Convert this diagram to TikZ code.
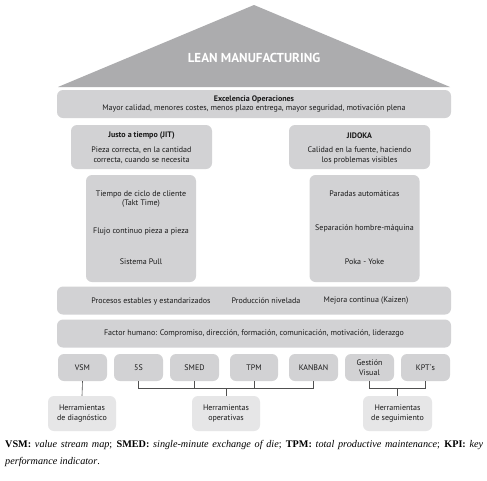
\documentclass[tikz,border=0pt]{standalone}
\usepackage{fontspec}
\setmainfont{Liberation Serif}
\newfontfamily\diag{PT Sans}
\begin{document}
\begin{tikzpicture}[x=1pt,y=-1pt,
  box/.style={fill=boxgray,rounded corners=6pt,inner sep=0pt,align=center,font=\diag\fontsize{8}{9.6}\selectfont,text=txt},
  lbox/.style={box,fill=lightgray2},
  lbl/.style={inner sep=0pt,align=center,font=\diag\fontsize{8}{9.6}\selectfont,text=txt},
  conn/.style={draw=conncol,line width=0.6pt}]
\definecolor{boxgray}{RGB}{210,210,212}
\definecolor{lightgray2}{RGB}{230,230,231}
\definecolor{roofgray}{RGB}{172,172,174}
\definecolor{txt}{RGB}{25,25,25}
\definecolor{conncol}{RGB}{80,80,80}
\useasboundingbox (0,0) rectangle (487,480);
\fill[white] (0,0) rectangle (487,480);
% roof
\fill[roofgray] (254,5) -- (450,87) -- (58,87) -- cycle;
\node[inner sep=0pt,font=\diag\bfseries\fontsize{13}{15}\selectfont,text=white] (lean) at (254,58) {LEAN MANUFACTURING};
% excellence
\node[box,minimum width=394,minimum height=28] (exc) at (254,104) {};
\node[lbl] (exct) at (254,104) {\textbf{Excelencia Operaciones}\\Mayor calidad, menores costes, menos plazo entrega, mayor seguridad, motivación plena};
% JIT and JIDOKA
\node[box,minimum width=141,minimum height=44] (jit) at (141.5,147) {};
\node[lbl] (jitt) at (141.5,136) {\textbf{Justo a tiempo (JIT)}};
\node[lbl] (jitd) at (141.5,155.5) {Pieza correcta, en la cantidad\\correcta, cuando se necesita};
\node[box,minimum width=141,minimum height=44] (jid) at (359.5,147) {};
\node[lbl] (jidt) at (359.5,136) {\textbf{JIDOKA}};
\node[lbl] (jidd) at (359.5,155.5) {Calidad en la fuente, haciendo\\los problemas visibles};
% pillars
\node[box,minimum width=110,minimum height=107] (pl) at (141,228.5) {};
\node[lbl] (pl1) at (141,199) {Tiempo de ciclo de cliente\\(Takt Time)};
\node[lbl] (pl2) at (141,232) {Flujo continuo pieza a pieza};
\node[lbl] (pl3) at (141,262) {Sistema Pull};
\node[box,minimum width=110,minimum height=107] (pr) at (364.5,228.5) {};
\node[lbl] (pr1) at (364.5,194) {Paradas automáticas};
\node[lbl] (pr2) at (364.5,228) {Separación hombre-máquina};
\node[lbl] (pr3) at (364.5,262) {Poka - Yoke};
% bands
\node[box,minimum width=394,minimum height=28] (proc) at (254,300.5) {};
\node[lbl] (proc1) at (151,301) {Procesos estables y estandarizados};
\node[lbl] (proc2) at (266,301) {Producción nivelada};
\node[lbl] (proc3) at (366,301) {Mejora continua (Kaizen)};
\node[box,minimum width=394,minimum height=28] (fac) at (254,333.5) {Factor humano: Compromiso, dirección, formación, comunicación, motivación, liderazgo};
% tools
\node[box,minimum width=49,minimum height=27] (vsm) at (82.5,367.5) {VSM};
\node[box,minimum width=49,minimum height=27] (s5) at (138.5,367.5) {5S};
\node[box,minimum width=49,minimum height=27] (smed) at (194.5,367.5) {SMED};
\node[box,minimum width=48,minimum height=27] (tpm) at (254,367.5) {TPM};
\node[box,minimum width=49,minimum height=27] (kan) at (313.5,367.5) {KANBAN};
\node[box,minimum width=49,minimum height=27] (gv) at (369.5,367.5) {Gestión\\Visual};
\node[box,minimum width=49,minimum height=27] (kpt) at (425.5,367.5) {KPT´s};
% bottom boxes
\node[lbox,minimum width=68,minimum height=35] (hd) at (82,413.5) {Herramientas\\de diagnóstico};
\node[lbox,minimum width=68,minimum height=35] (ho) at (226,413.5) {Herramientas\\operativas};
\node[lbox,minimum width=69,minimum height=35] (hs) at (397.5,413.5) {Herramientas\\de seguimiento};
% connectors
\coordinate (obar) at (226,388);
\coordinate (sbar) at (397.5,388);
\draw[conn] (vsm.south) -- (hd.north);
\draw[conn] (s5.south) |- (obar);
\draw[conn] (kan.south) |- (obar);
\draw[conn] (smed.south) -- (smed.south |- obar);
\draw[conn] (tpm.south) -- (tpm.south |- obar);
\draw[conn] (obar) -- (ho.north);
\draw[conn] (gv.south) |- (sbar);
\draw[conn] (kpt.south) |- (sbar);
\draw[conn] (sbar) -- (hs.north);
% caption
\node[inner sep=0pt,anchor=base west,font=\fontsize{10.2}{12}\selectfont] (cap1) at (5,447) {\hbox to 478pt{\textbf{VSM:} \textit{value stream map}; \textbf{SMED:} \textit{single-minute exchange of die}; \textbf{TPM:} \textit{total productive maintenance}; \textbf{KPI:} \textit{key}}};
\node[inner sep=0pt,anchor=base west,font=\fontsize{10.2}{12}\selectfont] (cap2) at (5,464) {\textit{performance indicator}.};
\end{tikzpicture}
\end{document}
